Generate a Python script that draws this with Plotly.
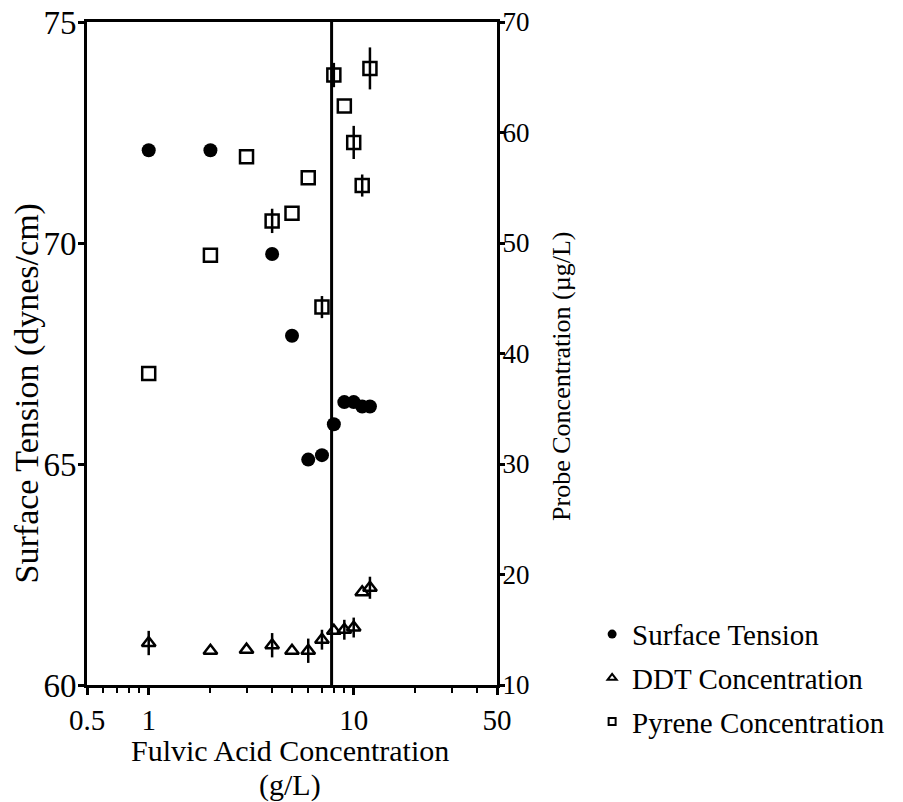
import math
import plotly.graph_objects as go

# Fulvic acid concentration (g/L) for each measurement
fa_surface = [1, 2, 4, 5, 6, 7, 8, 9, 10, 11, 12]
surface_tension = [72.1, 72.1, 69.75, 67.9, 65.1, 65.2, 65.9, 66.4, 66.4, 66.3, 66.3]

fa_probe = [1, 2, 3, 4, 5, 6, 7, 8, 9, 10, 11, 12]
ddt_conc = [13.8, 13.1, 13.2, 13.6, 13.1, 13.1, 14.1, 14.9, 15.0, 15.2, 18.4, 18.8]
ddt_err = [1.1, 0, 0, 1.1, 0, 1.1, 0.9, 0, 0.9, 0.9, 0, 1.0]
pyrene_conc = [38.2, 48.9, 57.8, 52.0, 52.7, 55.9, 44.2, 65.2, 62.4, 59.1, 55.2, 65.8]
pyrene_err = [0, 0, 0, 1.1, 0, 0, 1.0, 1.1, 0, 1.5, 1.0, 1.9]

# critical micelle concentration marker (g/L)
cmc = 7.8

x_ticks = [0.5, 1, 10, 50]
x_ticktext = ["0.5", "1", "10", "50"]
x_minor = [0.6, 0.7, 0.8, 0.9, 2, 3, 4, 5, 6, 7, 8, 9, 20, 30, 40]
left_ticks = [60, 65, 70, 75]
right_ticks = [10, 20, 30, 40, 50, 60, 70]

FONT = "Liberation Serif"
BLACK = "black"

fig = go.Figure()

err_style = dict(type="data", visible=True, color=BLACK, thickness=2.5, width=0)

fig.add_trace(go.Scatter(
    x=fa_surface, y=surface_tension, mode="markers", yaxis="y",
    marker=dict(symbol="circle", size=14, color=BLACK),
    showlegend=False,
))
fig.add_trace(go.Scatter(
    x=fa_probe, y=ddt_conc, mode="markers", yaxis="y2",
    marker=dict(symbol="triangle-up-open", size=12, color=BLACK, line=dict(width=2.5, color=BLACK)),
    error_y=dict(array=ddt_err, **err_style),
    showlegend=False,
))
fig.add_trace(go.Scatter(
    x=fa_probe, y=pyrene_conc, mode="markers", yaxis="y2",
    marker=dict(symbol="square-open", size=13, color=BLACK, line=dict(width=2.5, color=BLACK)),
    error_y=dict(array=pyrene_err, **err_style),
    showlegend=False,
))

# legend entries with small symbols
legend_items = [
    ("Surface Tension", dict(symbol="circle", size=9, color=BLACK)),
    ("DDT Concentration", dict(symbol="triangle-up-open", size=8, color=BLACK, line=dict(width=2, color=BLACK))),
    ("Pyrene Concentration", dict(symbol="square-open", size=7, color=BLACK, line=dict(width=2, color=BLACK))),
]
for i, (name, mk) in enumerate(legend_items):
    fig.add_trace(go.Scatter(
        x=[None], y=[None], mode="markers", name=name, marker=mk,
        legendgroup=f"g{i}", showlegend=True,
    ))

fig.add_shape(type="line", xref="x", yref="paper", x0=cmc, x1=cmc, y0=0, y1=1,
              line=dict(color=BLACK, width=3))

fig.update_layout(
    width=903, height=802,
    margin=dict(l=87, r=406, t=22, b=117),
    paper_bgcolor="white", plot_bgcolor="white",
    font=dict(family=FONT, color=BLACK, size=22),
    xaxis=dict(
        type="log", range=[math.log10(0.5), math.log10(50)],
        tickmode="array", tickvals=x_ticks, ticktext=x_ticktext,
        ticks="outside", ticklen=7, tickwidth=2.5, tickcolor=BLACK,
        minor=dict(tickmode="array", tickvals=x_minor, ticks="outside", ticklen=5,
                   tickwidth=2, tickcolor=BLACK, showgrid=False),
        showline=True, linewidth=3, linecolor=BLACK, mirror=True,
        showgrid=False, zeroline=False, automargin=False,
        tickfont=dict(size=29, family=FONT),
    ),
    yaxis=dict(
        range=[60, 75], tickmode="array", tickvals=left_ticks,
        ticks="outside", ticklen=6, tickwidth=2.5, tickcolor=BLACK,
        ticklabelstandoff=-5,
        showline=True, linewidth=3, linecolor=BLACK,
        showgrid=False, zeroline=False, automargin=False,
        tickfont=dict(size=33, family=FONT),
    ),
    yaxis2=dict(
        range=[10, 70], tickmode="array", tickvals=right_ticks,
        overlaying="y", side="right",
        ticks="outside", ticklen=5, tickwidth=2.5, tickcolor=BLACK,
        ticklabelstandoff=-8,
        showline=True, linewidth=3, linecolor=BLACK,
        showgrid=False, zeroline=False, automargin=False,
        tickfont=dict(size=27, family=FONT),
    ),
    legend=dict(
        x=1.232, xanchor="left", y=0.115, yanchor="top",
        font=dict(size=29, family=FONT),
        bgcolor="rgba(0,0,0,0)", borderwidth=0,
        traceorder="grouped", tracegroupgap=3,
        itemsizing="trace",
    ),
    annotations=[
        dict(text="Surface Tension (dynes/cm)", textangle=-90, xref="paper", yref="paper",
             x=-0.146, y=0.44, xanchor="center", yanchor="middle", showarrow=False,
             font=dict(size=34, family=FONT)),
        dict(text="Probe Concentration (µg/L)", textangle=-90, xref="paper", yref="paper",
             x=1.159, y=0.465, xanchor="center", yanchor="middle", showarrow=False,
             font=dict(size=26, family=FONT)),
        dict(text="Fulvic Acid Concentration", xref="paper", yref="paper",
             x=0.495, y=-(750 - 685) / 663, xanchor="center", yanchor="middle", showarrow=False,
             font=dict(size=30, family=FONT)),
        dict(text="(g/L)", xref="paper", yref="paper",
             x=0.495, y=-(785 - 685) / 663, xanchor="center", yanchor="middle", showarrow=False,
             font=dict(size=30, family=FONT)),
    ],
)

fig.write_html("out.html")
